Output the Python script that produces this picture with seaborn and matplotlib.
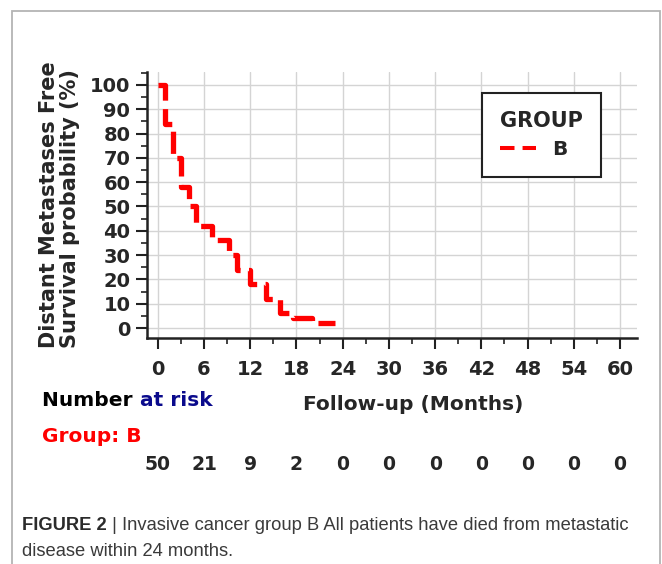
import matplotlib
matplotlib.use("Agg")
import matplotlib.pyplot as plt
from matplotlib.ticker import MultipleLocator
from matplotlib.patches import Rectangle
import seaborn as sns

# Kaplan-Meier curve (months, % survival)
tempo = [0, 1, 2, 3, 4, 5, 7, 9.3, 10.3, 12, 14, 15.9, 17.6, 20, 23]
sobrevida = [100, 84, 70, 58, 50, 42, 36, 30, 24, 18, 12, 6, 4, 2, 2]

# number at risk table
meses_tick = [0, 6, 12, 18, 24, 30, 36, 42, 48, 54, 60]
em_risco = [50, 21, 9, 2, 0, 0, 0, 0, 0, 0, 0]

W, H = 662, 564


def fx(px):
    return px / W


def fy(py):
    return 1 - py / H


sns.set_style("white")
plt.rcParams['font.family'] = ['DejaVu Sans']

fig = plt.figure(figsize=(W / 100, H / 100), dpi=100)
ax = fig.add_axes([fx(147), fy(338), fx(637) - fx(147), fy(72) - fy(338)])

sns.lineplot(x=tempo, y=sobrevida, ax=ax, drawstyle='steps-post', color='#ff0000',
             linewidth=3.8, estimator=None, sort=False, label='B')
linha = ax.get_lines()[0]
linha.set_dashes((4.2, 1.6))
linha.set_dash_capstyle('butt')

ax.set_xlim(-1.4, 62.2)
ax.set_ylim(-4.1, 105.3)
ax.xaxis.set_major_locator(MultipleLocator(6))
ax.xaxis.set_minor_locator(MultipleLocator(3))
ax.yaxis.set_major_locator(MultipleLocator(10))
ax.yaxis.set_minor_locator(MultipleLocator(5))
ax.grid(True, which='major', color='#d4d4d4', linewidth=1.0)
ax.set_axisbelow(True)

for lado in ['top', 'right']:
    ax.spines[lado].set_visible(False)
for lado in ['left', 'bottom']:
    ax.spines[lado].set_color('#222222')
    ax.spines[lado].set_linewidth(1.8)

ax.tick_params(axis='both', which='both', bottom=True, left=True, direction='out',
               color='#222222')
ax.tick_params(axis='both', which='major', length=8, width=1.5, labelsize=14)
ax.tick_params(axis='both', which='minor', length=4.5, width=1.2)
ax.tick_params(axis='x', which='major', pad=8)
ax.tick_params(axis='y', which='major', pad=4)
for t in ax.get_xticklabels() + ax.get_yticklabels():
    t.set_fontweight('bold')

ax.set_xlabel('')
ax.set_ylabel('')

leg = ax.legend(title='GROUP', loc='upper left', bbox_to_anchor=(fx(482), fy(93)),
                bbox_transform=fig.transFigure, frameon=True, fancybox=False,
                prop={'weight': 'bold', 'size': 14.5},
                title_fontproperties={'weight': 'bold', 'size': 15},
                alignment='left', borderaxespad=0,
                handlelength=1.8, handletextpad=0.8, borderpad=0.9, labelspacing=0.45)
leg.get_frame().set_edgecolor('#222222')
leg.get_frame().set_linewidth(1.5)
leg.get_frame().set_alpha(1)
h = leg.get_lines()[0]
h.set_linewidth(2.9)
h.set_dashes((3.6, 2.0))

# y axis title (two lines)
fig.text(fx(49), fy(205), 'Distant Metastases Free', rotation=90, ha='center', va='center',
         fontsize=15, fontweight='bold')
fig.text(fx(70), fy(209), 'Survival probability (%)', rotation=90, ha='center', va='center',
         fontsize=15, fontweight='bold')

# x axis title
fig.text(fx(413), fy(404), 'Follow-up (Months)', ha='center', va='center',
         fontsize=14.5, fontweight='bold')

# number at risk
t1 = fig.text(fx(42), fy(400), 'Number ', ha='left', va='center', fontsize=14.5,
              fontweight='bold', color='black')
ax.annotate('at risk', xy=(1, 0), xycoords=t1, ha='left', va='bottom', fontsize=14.5,
            fontweight='bold', color='#0a0a8c', annotation_clip=False)
fig.text(fx(42), fy(436), 'Group: B', ha='left', va='center', fontsize=14.5,
         fontweight='bold', color='#ff0000')
y_num = fy(464)
for m, n in zip(meses_tick, em_risco):
    px = ax.transData.transform((m, 0))[0]
    fig.text(px / W, y_num, str(n), ha='center', va='center', fontsize=13.5,
             fontweight='bold')

# caption
fonte_leg = ['Liberation Sans', 'DejaVu Sans']
c1 = fig.text(fx(22), fy(525), 'FIGURE 2', ha='left', va='center', fontsize=13.2,
              fontweight='bold', color='#2b2b2b', family=fonte_leg)
ax.annotate(' | Invasive cancer group B All patients have died from metastatic',
            xy=(1, 0), xycoords=c1, ha='left', va='bottom', fontsize=13.2, color='#3a3a3a',
            family=fonte_leg, annotation_clip=False)
fig.text(fx(22), fy(551), 'disease within 24 months.', ha='left', va='center', fontsize=13.2,
         color='#3a3a3a', family=fonte_leg)

# outer frame
fig.patches.append(Rectangle((fx(12), fy(600)), fx(660) - fx(12), fy(11) - fy(600),
                             transform=fig.transFigure, fill=False,
                             edgecolor='#b4b4b4', linewidth=1.3))

fig.savefig('out.png', dpi=100)
